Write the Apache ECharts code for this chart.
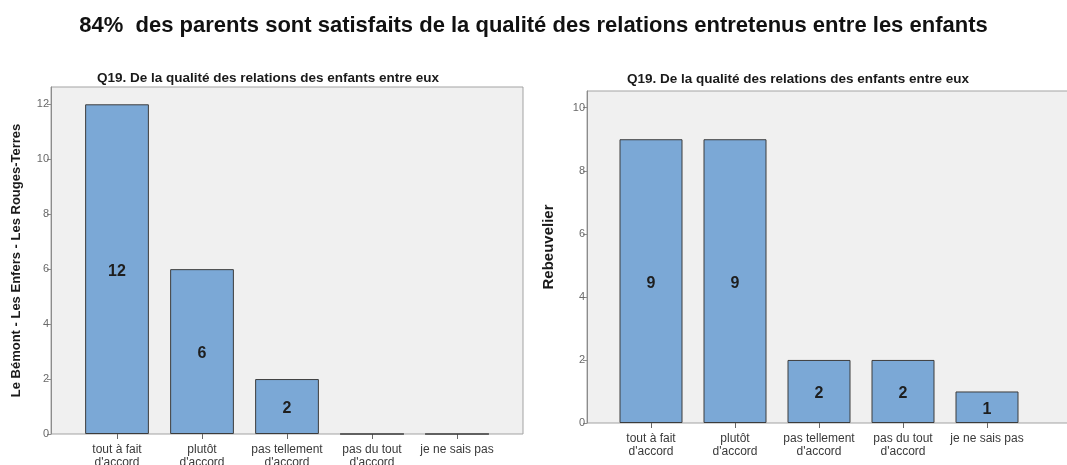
<!DOCTYPE html>
<html>
<head>
<meta charset="utf-8">
<script src="https://cdn.jsdelivr.net/npm/echarts@6/dist/echarts.min.js"></script>
<style>
  html, body { margin: 0; padding: 0; background: #ffffff; }
  #chart { width: 1067px; height: 465px; }
</style>
</head>
<body>
<div id="chart"></div>
<script>
// Survey answers, Q19 – quality of relations among the children
const categories = ["tout à fait\nd'accord", "plutôt\nd'accord", "pas tellement\nd'accord", "pas du tout\nd'accord", "je ne sais pas"];
const countsBemont = [12, 6, 2, 0, 0];      // Le Bémont - Les Enfers - Les Rouges-Terres
const countsRebeuvelier = [9, 9, 2, 2, 1];  // Rebeuvelier
const ticksLeft = [0, 2, 4, 6, 8, 10, 12];
const ticksRight = [0, 2, 4, 6, 8, 10];

const mainTitle = "84%  des parents sont satisfaits de la qualité des relations entretenus entre les enfants";
const panelTitle = "Q19. De la qualité des relations des enfants entre eux";
const nameLeft = "Le Bémont - Les Enfers - Les Rouges-Terres";
const nameRight = "Rebeuvelier";

const FONT = "'Liberation Sans', Arial, sans-serif";
const maxLeft = 12.63;
const maxRight = 10.53;

const chart = echarts.init(document.getElementById('chart'), null, { renderer: 'canvas' });

function frameGrid(left, top, right, bottom) {
  return { left, top, right, bottom, show: true, backgroundColor: '#f0f0f0',
           borderColor: '#a3a3a3', borderWidth: 1, containLabel: false, outerBoundsMode: 'none' };
}
function frameY(gridIndex, max, ticks, name, nameSize, nameGap, namePad) {
  return {
    type: 'value', gridIndex, min: 0, max,
    name, nameLocation: 'middle', nameGap, nameRotate: 90,
    nameTextStyle: { fontFamily: FONT, fontWeight: 'bold', fontSize: nameSize, color: '#1a1a1a', padding: namePad },
    axisLine: { show: true, lineStyle: { color: '#8c8c8c', width: 1 } },
    axisTick: { show: true, length: 4, inside: false, customValues: ticks, lineStyle: { color: '#8c8c8c' } },
    axisLabel: { customValues: ticks, fontFamily: FONT, fontSize: 11, color: '#6a6a6a', margin: 2 },
    splitLine: { show: false }
  };
}
function frameX(gridIndex) {
  return { type: 'value', gridIndex, min: 0, max: 1, show: false };
}
function barX(gridIndex) {
  return {
    type: 'category', gridIndex, data: categories,
    axisLine: { show: false },
    axisTick: { show: true, alignWithLabel: true, length: 5, lineStyle: { color: '#666' } },
    axisLabel: { fontFamily: FONT, fontSize: 12, color: '#3a3a3a', margin: 9, lineHeight: 13, interval: 0 }
  };
}
function barY(gridIndex, max) {
  return { type: 'value', gridIndex, min: 0, max, show: false, splitLine: { show: false } };
}
function barSeries(idx, data) {
  return {
    type: 'bar', xAxisIndex: idx, yAxisIndex: idx, data,
    barWidth: '75%',
    itemStyle: { color: '#7ba8d6', borderColor: '#3c3c3c', borderWidth: 1 },
    label: {
      show: true, position: 'inside', offset: [0, 2.5],
      fontFamily: FONT, fontWeight: 'bold', fontSize: 16, color: '#1e1e1e',
      formatter: p => (p.value === 0 ? '' : String(p.value))
    },
    silent: true
  };
}

chart.setOption({
  animation: false,
  backgroundColor: '#ffffff',
  title: [
    { text: mainTitle, left: 'center', top: 10,
      textStyle: { fontFamily: FONT, fontWeight: 'bold', fontSize: 22, color: '#111' } },
    { text: panelTitle, left: 263, top: 66, textAlign: 'center',
      textStyle: { fontFamily: FONT, fontWeight: 'bold', fontSize: 13.5, color: '#1a1a1a' } },
    { text: panelTitle, left: 793, top: 67, textAlign: 'center',
      textStyle: { fontFamily: FONT, fontWeight: 'bold', fontSize: 13.5, color: '#1a1a1a' } }
  ],
  grid: [
    frameGrid(51, 87, 1067 - 523, 465 - 434),     // left panel frame
    frameGrid(587, 91, -6, 465 - 423),            // right panel frame
    { left: 74.5, width: 425, top: 87, bottom: 465 - 434, show: false, outerBoundsMode: 'none' },
    { left: 609, width: 420, top: 91, bottom: 465 - 423, show: false, outerBoundsMode: 'none' }
  ],
  xAxis: [frameX(0), frameX(1), barX(2), barX(3)],
  yAxis: [
    frameY(0, maxLeft, ticksLeft, nameLeft, 13, 28, 0),
    frameY(1, maxRight, ticksRight, nameRight, 15, 31, [0, 0, 0, 20]),
    barY(2, maxLeft),
    barY(3, maxRight)
  ],
  series: [barSeries(2, countsBemont), barSeries(3, countsRebeuvelier)]
});
</script>
</body>
</html>
